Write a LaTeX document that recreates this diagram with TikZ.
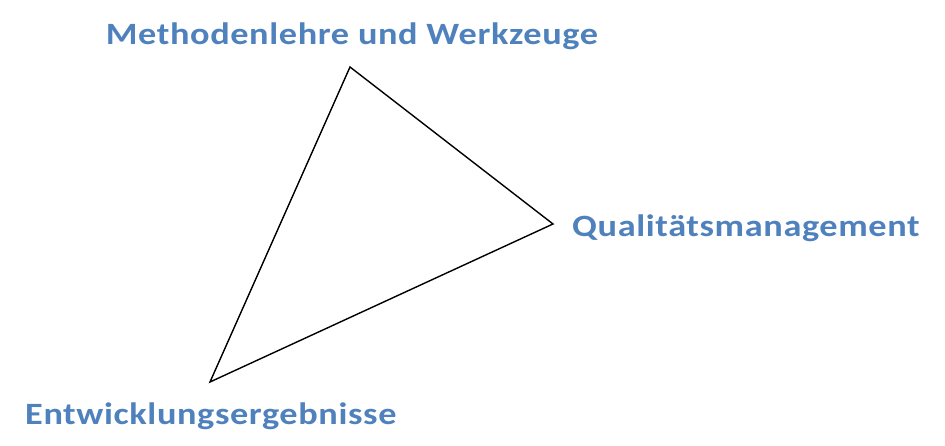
\documentclass[tikz,border=0pt]{standalone}
\usepackage{fontspec}
\setmainfont{Carlito}
\newfontfamily\labelfont[FakeStretch=1.17, LetterSpace=2]{Carlito}
\usepackage{xcolor}
\usepackage{tikz}
\usetikzlibrary{positioning}
\definecolor{officeblue}{HTML}{4F81BD}

\begin{document}
\begin{tikzpicture}[x=1pt, y=1pt, every node/.style={inner sep=0pt}]

    % Styles for the corner labels and the triangle
    \tikzset{
        cornerlabel/.style={font=\labelfont\fontsize{31}{37}\selectfont\bfseries, text=officeblue},
        triangleline/.style={draw=black, line width=1.4pt, line join=miter}
    }

    \useasboundingbox (0,0) rectangle (945,446);

    % Corners of the triangle
    \coordinate (methoden) at (350,379);
    \coordinate (qualitaet) at (553,222);
    \coordinate (ergebnisse) at (210,64);

    % Labels at the corners
    \node[cornerlabel, anchor=base] (methodenlabel) at (352,401) {Methodenlehre und Werkzeuge};
    \node[cornerlabel, anchor=base west] (qualitaetlabel) at (572,209) {Qualitätsmanagement};
    \node[cornerlabel, anchor=base west] (ergebnislabel) at (25,21) {Entwicklungsergebnisse};

    % The triangle itself
    \draw[triangleline] (methoden) -- (qualitaet) -- (ergebnisse) -- cycle;

\end{tikzpicture}
\end{document}
